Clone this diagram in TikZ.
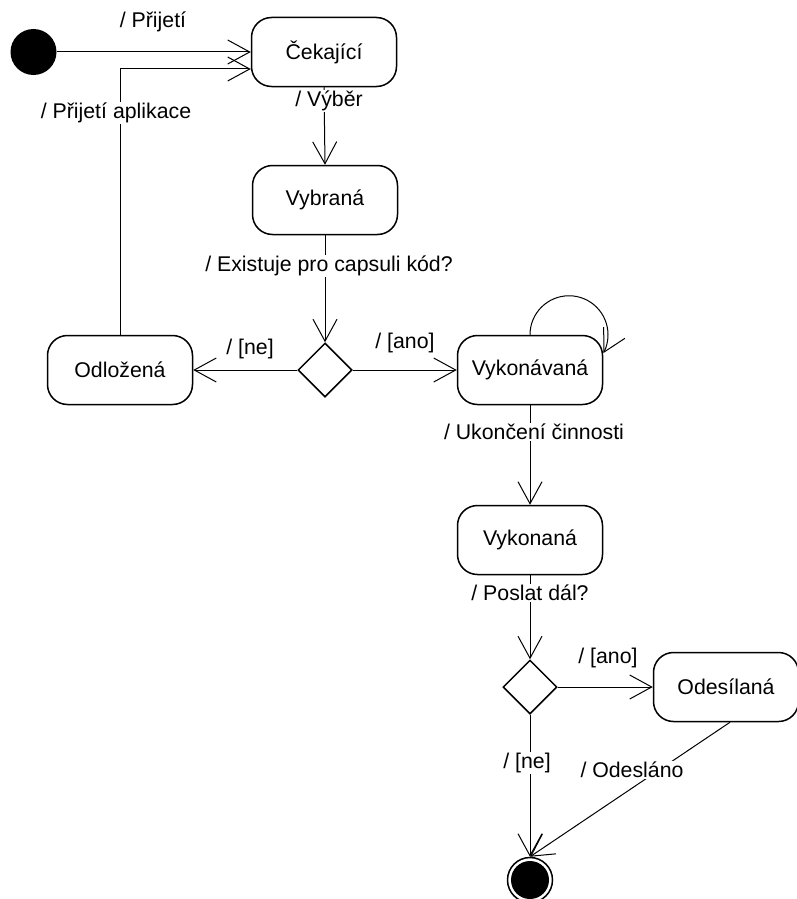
\documentclass[tikz,border=0pt]{standalone}
\usepackage{fontspec}
\setmainfont{Liberation Sans}
\usetikzlibrary{arrows.meta,shapes.geometric}
\begin{document}
\begin{tikzpicture}[x=1pt,y=-1pt,
  every node/.style={font=\fontsize{21.3}{25}\selectfont},
  state/.style={draw,line width=1.5pt,rounded corners=20pt,minimum width=145pt,minimum height=69pt,inner sep=0pt},
  choice/.style={draw,diamond,line width=1.5pt,minimum width=54pt,minimum height=54pt,inner sep=0pt},
  lbl/.style={fill=white,inner sep=1pt},
  flow/.style={line width=1pt,-{Straight Barb[length=22pt,width=24pt,line width=1pt]}}
]
\useasboundingbox (0,0) rectangle (797,899);

% initial and final pseudo-states
\node[circle,fill=black,minimum size=46pt,inner sep=0pt] (init) at (33.5,52) {};
\node[circle,draw,line width=1.5pt,minimum size=45pt,inner sep=0pt] (fin) at (530,880) {};
\fill (fin.center) circle[radius=19pt];

% states
\node[state] (cek) at (324,52) {Čekající};
\node[state] (vyb) at (325,200) {Vybraná};
\node[state] (odl) at (120,370) {Odložená};
\node[state] (vkv) at (530,370) {Vykonávaná};
\node[state] (vkn) at (530,540) {Vykonaná};
\node[state] (ode) at (726,687) {Odesílaná};

% decisions
\node[choice] (d1) at (325,370) {};
\node[choice] (d2) at (530,687) {};

% transitions
\coordinate (back) at (cek.west |- 0,69);
\draw[flow] (init) -- (cek.west);
\draw[flow] (odl.north) |- (back);
\draw[flow] (cek.south) -- (vyb.north);
\draw[flow] (vyb.south) -- (d1.north);
\draw[flow] (d1.west) -- (odl.east);
\draw[flow] (d1.east) -- (vkv.west);
\draw[flow] (vkv.north) arc[start angle=180,end angle=-28,radius=39pt];
\draw[flow] (vkv.south) -- (vkn.north);
\draw[flow] (vkn.south) -- (d2.north);
\draw[flow] (d2.east) -- (ode.west);
\draw[flow] (d2.south) -- (fin.north);
\draw[flow] ([xshift=4pt]ode.south) -- (fin.north);

% transition labels
\node (l1) at (153,22) {/ Přijetí};
\node[lbl] (l2) at (116,113) {/ Přijetí aplikace};
\node[lbl] (l3) at (329,101) {/ Výběr};
\node[lbl] (l4) at (329,266) {/ Existuje pro capsuli kód?};
\node (l5) at (250,349) {/ [ne]};
\node (l6) at (405,343) {/ [ano]};
\node[lbl] (l7) at (534,432) {/ Ukončení činnosti};
\node[lbl] (l8) at (530,593) {/ Poslat dál?};
\node (l9) at (608,658) {/ [ano]};
\node[lbl] (l10) at (527,763) {/ [ne]};
\node[lbl] (l11) at (632,770) {/ Odesláno};
\end{tikzpicture}
\end{document}
